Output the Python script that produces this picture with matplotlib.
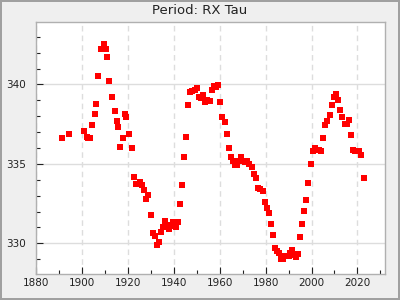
import matplotlib
matplotlib.use("Agg")
import matplotlib.pyplot as plt
from matplotlib.ticker import MultipleLocator

years = [
    1891.5, 1894.5, 1901.1, 1902.0, 1902.8, 1903.7, 1904.6, 1905.5, 1906.3,
    1907.2, 1908.5, 1909.4, 1910.3, 1911.1, 1912.0, 1913.3, 1914.2, 1915.1,
    1915.9, 1916.8, 1917.7, 1918.6, 1919.4, 1920.3, 1921.6, 1922.5, 1923.4,
    1924.2, 1925.1, 1926.0, 1926.9, 1927.7, 1928.6, 1929.9, 1930.8, 1931.7,
    1932.5, 1933.4, 1934.3, 1935.2, 1936.0, 1936.9, 1937.8, 1938.6, 1939.5,
    1940.3, 1941.1, 1941.7, 1942.6, 1943.5, 1944.3, 1945.2, 1946.1, 1946.9,
    1947.8, 1949.1, 1950.0, 1950.9, 1951.7, 1952.6, 1953.5, 1954.4, 1955.7,
    1956.6, 1957.4, 1958.3, 1959.2, 1960.0, 1960.9, 1962.2, 1963.1, 1964.0,
    1964.8, 1965.7, 1966.6, 1967.5, 1968.3, 1969.2, 1970.1, 1971.0, 1971.8,
    1972.7, 1974.0, 1974.9, 1975.8, 1976.6, 1977.5, 1978.8, 1979.7, 1980.6,
    1981.4, 1982.3, 1983.2, 1984.1, 1984.9, 1985.8, 1986.7, 1987.6, 1988.4,
    1989.3, 1990.2, 1990.6, 1991.5, 1992.4, 1993.2, 1994.1, 1995.0, 1995.9,
    1996.7, 1997.6, 1998.5, 1999.8, 2000.7, 2001.5, 2002.4, 2003.3, 2004.2,
    2005.0, 2005.9, 2006.8, 2008.1, 2009.0, 2009.8, 2010.7, 2011.6, 2012.4,
    2013.3, 2014.6, 2015.5, 2016.4, 2017.2, 2018.1, 2019.0, 2019.9, 2020.7,
    2021.6, 2022.9,
]
periods = [
    336.66, 336.85, 337.04, 336.72, 336.60, 336.60, 337.42, 338.11, 338.74,
    340.50, 342.21, 342.52, 342.21, 341.70, 340.19, 339.24, 338.30, 337.67,
    337.35, 336.09, 336.66, 338.17, 337.98, 336.85, 335.97, 334.20, 333.76,
    333.76, 333.89, 333.64, 333.38, 332.82, 333.01, 331.81, 330.67, 330.49,
    329.92, 330.11, 330.74, 331.05, 331.43, 331.15, 330.93, 331.10, 331.37,
    331.15, 331.05, 331.37, 332.50, 333.64, 335.46, 336.72, 338.68, 339.50,
    339.56, 339.62, 339.75, 339.24, 339.12, 339.31, 338.87, 339.05, 338.93,
    339.62, 339.87, 339.81, 339.94, 338.87, 337.98, 337.61, 336.91, 336.03,
    335.46, 335.15, 334.96, 334.96, 335.18, 335.46, 335.21, 335.10, 335.21,
    335.02, 334.83, 334.39, 334.08, 333.48, 333.45, 333.30, 332.63, 332.25,
    331.93, 331.24, 330.55, 329.73, 329.54, 329.41, 329.02, 329.04, 329.22,
    329.22, 329.22, 329.41, 329.60, 329.29, 329.16, 329.35, 330.42, 331.24,
    332.06, 332.75, 333.82, 335.02, 335.78, 335.97, 335.90, 335.90, 335.84,
    336.60, 337.42, 337.67, 338.05, 338.68, 339.18, 339.37, 339.05, 338.42,
    337.92, 337.48, 337.48, 337.79, 336.79, 335.90, 335.78, 335.78, 335.78,
    335.59, 334.08,
]

fig = plt.figure(figsize=(4, 3), dpi=100, facecolor="#efefef",
                 edgecolor="#a0a0a0", linewidth=1.5)
ax = fig.add_axes([0.09, 0.0867, 0.8725, 0.84])
ax.set_facecolor("white")

ax.scatter(years, periods, marker="s", s=20, color="#ff0000",
           linewidths=0, zorder=3)

ax.set_xlim(1880, 2032)
ax.set_ylim(328.07, 343.93)

ax.xaxis.set_major_locator(MultipleLocator(20))
ax.xaxis.set_minor_locator(MultipleLocator(10))
ax.yaxis.set_major_locator(MultipleLocator(5))
ax.yaxis.set_minor_locator(MultipleLocator(1))

ax.grid(axis="x", which="major", color="#dddddd", linestyle=(0, (4, 3)),
        linewidth=1)
ax.grid(axis="y", which="major", color="#dddddd", linestyle="-", linewidth=1)
ax.set_axisbelow(True)

for s in ax.spines.values():
    s.set_color("#b0b0b0")
    s.set_linewidth(1)

# ticks point inward, labels sit a bit away from the frame
ax.tick_params(which="both", direction="in", colors="#222222",
               labelsize=7.5, top=False, right=False)
ax.tick_params(which="major", length=5, width=0.8)
ax.tick_params(which="minor", length=2.7, width=0.8)
ax.tick_params(axis="y", which="major", pad=7)
ax.tick_params(axis="x", which="major", pad=3)

fig.suptitle("Period: RX Tau", fontsize=9.5, y=0.985, color="#222222")

plt.savefig("out.png", dpi=100, facecolor=fig.get_facecolor(),
            edgecolor=fig.get_edgecolor())
